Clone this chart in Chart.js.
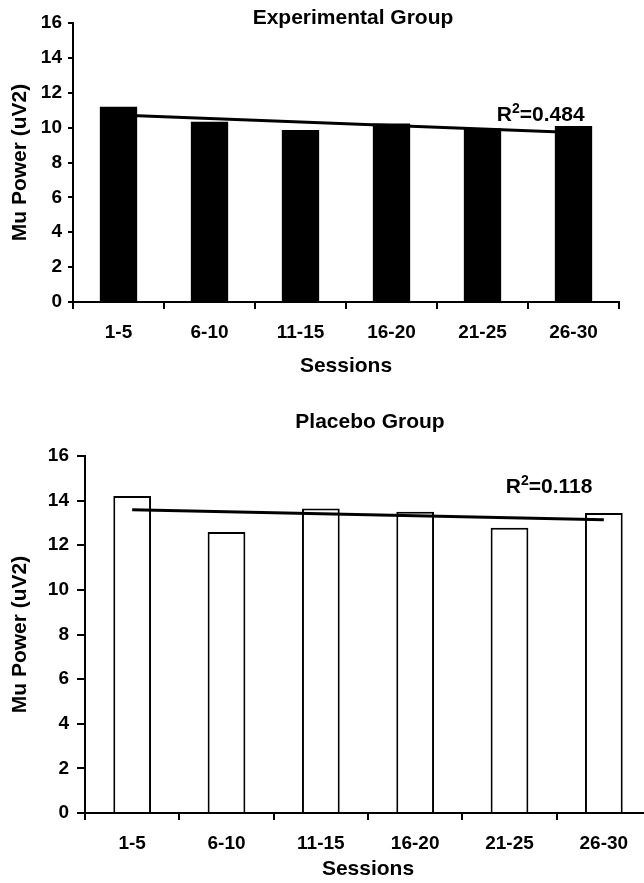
<!DOCTYPE html>
<html><head><meta charset="utf-8">
<script src="https://cdn.jsdelivr.net/npm/chart.js@4.4.1/dist/chart.umd.min.js"></script>
<style>
html,body{margin:0;padding:0;background:#fff;overflow:hidden;width:644px;height:883px;position:relative;}
#c1{position:absolute;left:0;top:0;}
#c2{position:absolute;left:0;top:380px;}
</style></head><body>
<canvas id="c1" width="644" height="380"></canvas>
<canvas id="c2" width="700" height="503"></canvas>
<script>
// ---- data ----
const sessions = ['1-5', '6-10', '11-15', '16-20', '21-25', '26-30'];
const yTickValues = [0, 2, 4, 6, 8, 10, 12, 14, 16];
const experimentalPower = [11.2, 10.33, 9.86, 10.24, 9.95, 10.1];
const placeboPower = [14.21, 12.59, 13.65, 13.5, 12.78, 13.45];
// trend line end values (first and last session)
const experimentalTrend = [10.73, 9.72];
const placeboTrend = [13.59, 13.14];
const experimentalR2 = '0.484';
const placeboR2 = '0.118';
const yAxisLabel = 'Mu Power (uV2)';
const xAxisLabel = 'Sessions';

const FAM = '"Liberation Sans", Arial, Helvetica, sans-serif';

const annot = {
  id: 'annot',
  afterDatasetsDraw(chart, args, o) {
    const ctx = chart.ctx, a = chart.chartArea;
    ctx.save();
    ctx.fillStyle = '#000';
    ctx.textBaseline = 'alphabetic';
    ctx.font = 'bold 21px ' + FAM;
    ctx.textAlign = 'center';
    ctx.fillText(o.title, (a.left + a.right) / 2 + o.titleDx, a.top + o.titleDy);
    // R^2 label
    const xs = chart.scales.x, ys = chart.scales.y;
    const cx = xs.getPixelForValue(o.r2x), by = ys.getPixelForValue(o.r2y);
    ctx.textAlign = 'left';
    ctx.font = 'bold 21px ' + FAM;
    const w1 = ctx.measureText('R').width;
    const w3 = ctx.measureText('=' + o.r2).width;
    ctx.font = 'bold 14px ' + FAM;
    const w2 = ctx.measureText('2').width;
    let x = cx - (w1 + w2 + w3) / 2;
    ctx.font = 'bold 21px ' + FAM;
    ctx.fillText('R', x, by); x += w1;
    ctx.font = 'bold 14px ' + FAM;
    ctx.fillText('2', x, by - 8); x += w2;
    ctx.font = 'bold 21px ' + FAM;
    ctx.fillText('=' + o.r2, x, by);
    ctx.restore();
  }
};

function makeChart(id, cfg) {
  return new Chart(document.getElementById(id), {
    type: 'bar',
    data: {
      labels: sessions,
      datasets: [
        {
          type: 'line',
          data: [{x: sessions[0], y: cfg.trend[0]}, {x: sessions[sessions.length - 1], y: cfg.trend[1]}],
          borderColor: '#000', borderWidth: 3, pointRadius: 0, fill: false, order: 0
        },
        {
          type: 'bar',
          data: cfg.values,
          backgroundColor: cfg.fill,
          borderColor: '#000',
          borderWidth: cfg.border,
          barPercentage: cfg.barPct,
          categoryPercentage: 1,
          order: 1
        }
      ]
    },
    plugins: [annot],
    options: {
      responsive: false,
      animation: false,
      layout: {padding: {top: cfg.padTop, right: cfg.padRight, bottom: 0, left: 0}},
      plugins: {
        legend: {display: false},
        tooltip: {enabled: false},
        annot: {title: cfg.title, titleDx: cfg.titleDx, titleDy: cfg.titleDy, r2: cfg.r2, r2x: cfg.r2x, r2y: cfg.r2y}
      },
      scales: {
        x: {
          type: 'category',
          offset: true,
          grid: {display: true, drawOnChartArea: false, drawTicks: true, tickLength: 7, offset: true, color: '#000', lineWidth: 2},
          border: {display: true, color: '#000', width: 2},
          ticks: {color: '#000', font: {family: FAM, size: 19, weight: 'bold'}, padding: 12, maxRotation: 0, autoSkip: false},
          title: {display: true, text: xAxisLabel, color: '#000', font: {family: FAM, size: 21, weight: 'bold'}, padding: {top: 0, bottom: cfg.xTitlePad}},
          afterFit: s => { s.height = cfg.xHeight; }
        },
        y: {
          min: 0, max: 16,
          afterBuildTicks: s => { s.ticks = yTickValues.map(v => ({value: v})); },
          grid: {display: true, drawOnChartArea: false, drawTicks: true, tickLength: cfg.yTickLen, color: '#000', lineWidth: 2},
          border: {display: true, color: '#000', width: 2},
          ticks: {color: '#000', font: {family: FAM, size: 19, weight: 'bold'}, padding: cfg.yTickPad},
          title: {display: true, text: yAxisLabel, color: '#000', font: {family: FAM, size: 21, weight: 'bold'}, padding: {top: 8, bottom: 0}},
          afterFit: s => { s.width = cfg.yWidth; }
        }
      }
    }
  });
}

makeChart('c1', {
  values: experimentalPower, trend: experimentalTrend, fill: '#000', border: 0, barPct: 0.41,
  padTop: 23, padRight: 25, xHeight: 78, yWidth: 73, xTitlePad: 1, yTickLen: 5, yTickPad: 6,
  title: 'Experimental Group', titleDx: 7, titleDy: 1,
  r2: experimentalR2, r2x: 4.64, r2y: 10.37
});
makeChart('c2', {
  values: placeboPower, trend: placeboTrend, fill: '#fff', border: 2, barPct: 0.40,
  padTop: 76, padRight: 49, xHeight: 70, yWidth: 85, xTitlePad: 1, yTickLen: 8, yTickPad: 8,
  title: 'Placebo Group', titleDx: 2, titleDy: -28,
  r2: placeboR2, r2x: 4.42, r2y: 14.33
});
</script>
</body></html>
